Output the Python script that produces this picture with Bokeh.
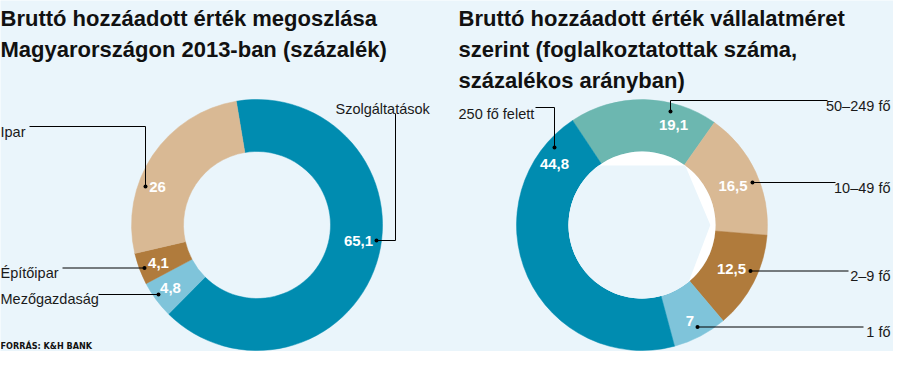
import numpy as np
from bokeh.plotting import figure
from bokeh.models import Range1d, ColumnDataSource
from bokeh.core.properties import value
from bokeh.embed import file_html
from bokeh.resources import INLINE

# ---------------- data ----------------
left_categories = ["Szolgáltatások", "Mezőgazdaság", "Építőipar", "Ipar"]
left_values = [65.1, 4.8, 4.1, 26]

right_categories = ["50–249 fő", "10–49 fő", "2–9 fő", "1 fő", "250 fő felett"]
right_values = [19.1, 16.5, 12.5, 7, 44.8]

left_title = ["Bruttó hozzáadott érték megoszlása",
              "Magyarországon 2013-ban (százalék)"]
right_title = ["Bruttó hozzáadott érték vállalatméret",
               "szerint (foglalkoztatottak száma,",
               "százalékos arányban)"]
source_text = "FORRÁS: K&H BANK"

# ---------------- styles ----------------
BG = "#EAF5FB"
DARK_TEAL = "#008CB0"
TAN = "#D9B994"
BROWN = "#B07B3C"
LIGHT_BLUE = "#7FC4DA"
SEA_GREEN = "#6CB7B0"
left_colors = [DARK_TEAL, LIGHT_BLUE, BROWN, TAN]
right_colors = [SEA_GREEN, TAN, BROWN, LIGHT_BLUE, DARK_TEAL]

W, H = 909, 367          # reference picture size
M = 8                    # page margin


def Y(yr):
    """reference (top-down) pixel y -> data y"""
    return H - yr


SANS = value("Liberation Sans")
COND = value("'DejaVu Sans Condensed', 'Roboto Condensed', 'Liberation Sans', sans-serif")

p = figure(width=W - 2 * M, height=H - 2 * M,
           x_range=Range1d(M, W - M), y_range=Range1d(M, H - M),
           output_backend="svg", toolbar_location=None,
           x_axis_location=None, y_axis_location=None,
           min_border=0, background_fill_color=BG, border_fill_color=BG,
           outline_line_color=None)
p.grid.visible = False

R_OUT, R_IN = 125.5, 73.5


def donut(cx, cy, values, colors, start_deg):
    vals = np.asarray(values, dtype=float)
    cum = np.concatenate([[0], np.cumsum(vals)]) / vals.sum() * 2 * np.pi
    t0 = np.deg2rad(start_deg)
    a_from = t0 + cum[:-1]   # clockwise from 12 o'clock
    a_to = t0 + cum[1:]
    src = ColumnDataSource(dict(start=np.pi / 2 - a_to, end=np.pi / 2 - a_from,
                                color=colors))
    p.annular_wedge(x=cx, y=Y(cy), inner_radius=R_IN, outer_radius=R_OUT,
                    start_angle="start", end_angle="end", direction="anticlock",
                    fill_color="color", line_color="color", line_width=0.5,
                    source=src)


# left donut
LCX, LCY = 264.5, 232.5
donut(LCX, LCY, left_values, left_colors, -9.5)

# right donut
RCX, RCY = 649.5, 232.5
donut(RCX, RCY, right_values, right_colors, -33.6)

# right hole: white disc with a faceted light-blue fill (as in the original)
p.circle(x=[RCX], y=[Y(RCY)], radius=R_IN, fill_color="white", line_color=None)
arc = np.deg2rad(np.linspace(126, 309.5, 80))
hx = list(RCX + R_IN * np.cos(arc)) + [RCX + 0.93 * R_IN,
                                       RCX + R_IN * np.cos(np.deg2rad(54))]
hy = list(Y(RCY) + R_IN * np.sin(arc)) + [Y(RCY),
                                          Y(RCY) + R_IN * np.sin(np.deg2rad(54))]
p.patch(hx, hy, fill_color=BG, line_color=None)

# ---------------- titles ----------------
TITLE_BASE = [26, 57, 88]
for i, line in enumerate(left_title):
    p.text(x=[8], y=[Y(TITLE_BASE[i])], text=[line], text_font=SANS,
           text_font_style="bold", text_font_size="22px", text_color="#111111",
           text_baseline="alphabetic", text_align="left")
for i, line in enumerate(right_title):
    p.text(x=[466], y=[Y(TITLE_BASE[i])], text=[line], text_font=SANS,
           text_font_style="bold", text_font_size="22px", text_color="#111111",
           text_baseline="alphabetic", text_align="left")

p.text(x=[8], y=[Y(353)], text=[source_text], text_font=COND,
       text_font_style="bold", text_font_size="9px", text_color="#111111",
       text_baseline="alphabetic", text_align="left")

# ---------------- category labels + leaders ----------------
# (label x, baseline y, align) in reference pixels
left_label_pos = [(343, 116, "left"), (8, 306, "left"), (8, 280, "left"), (8, 139, "left")]
left_leaders = [([403, 403, 384], [121, 248, 248]),
                ([106, 166], [302, 302]),
                ([70, 152], [275.5, 275.5]),
                ([37, 153, 153], [134, 134, 194])]
left_value_pos = [(366, 248), (178, 295), (166, 270), (165, 194.5)]

right_label_pos = [(898, 113, "right"), (898, 195, "right"), (898, 283, "right"),
                   (898, 339, "right"), (466, 121, "left")]
right_leaders = [([835, 678, 678], [108, 108, 119]),
                 ([843, 760], [190, 190]),
                 ([856, 758], [278.5, 278.5]),
                 ([871, 705], [334.5, 334.5]),
                 ([543, 562, 562], [115, 115, 155])]
right_value_pos = [(681, 132), (740.5, 193), (739, 276), (697.5, 328), (562, 171)]


def fmt(v):
    return f"{v:g}".replace(".", ",")


def labels(cats, vals, lpos, leaders, vpos):
    for c, (x, yb, al) in zip(cats, lpos):
        p.text(x=[x], y=[Y(yb)], text=[c], text_font=SANS,
               text_font_size="14.5px", text_color="#1a1a1a",
               text_baseline="alphabetic", text_align=al)
    xs = [list(l[0]) for l in leaders]
    ys = [[Y(v) for v in l[1]] for l in leaders]
    p.multi_line(xs=xs, ys=ys, line_color="black", line_width=1)
    p.scatter(x=[l[0][-1] for l in leaders], y=[Y(l[1][-1]) for l in leaders],
              size=4, marker="circle", fill_color="black", line_color=None)
    p.text(x=[v[0] for v in vpos], y=[Y(v[1]) for v in vpos],
           text=[fmt(v) for v in vals], text_font=SANS, text_font_style="bold",
           text_font_size="15px", text_color="white",
           text_baseline="middle", text_align="center")


labels(left_categories, left_values, left_label_pos, left_leaders, left_value_pos)
labels(right_categories, right_values, right_label_pos, right_leaders, right_value_pos)

open("out.html", "w").write(file_html(p, INLINE))
